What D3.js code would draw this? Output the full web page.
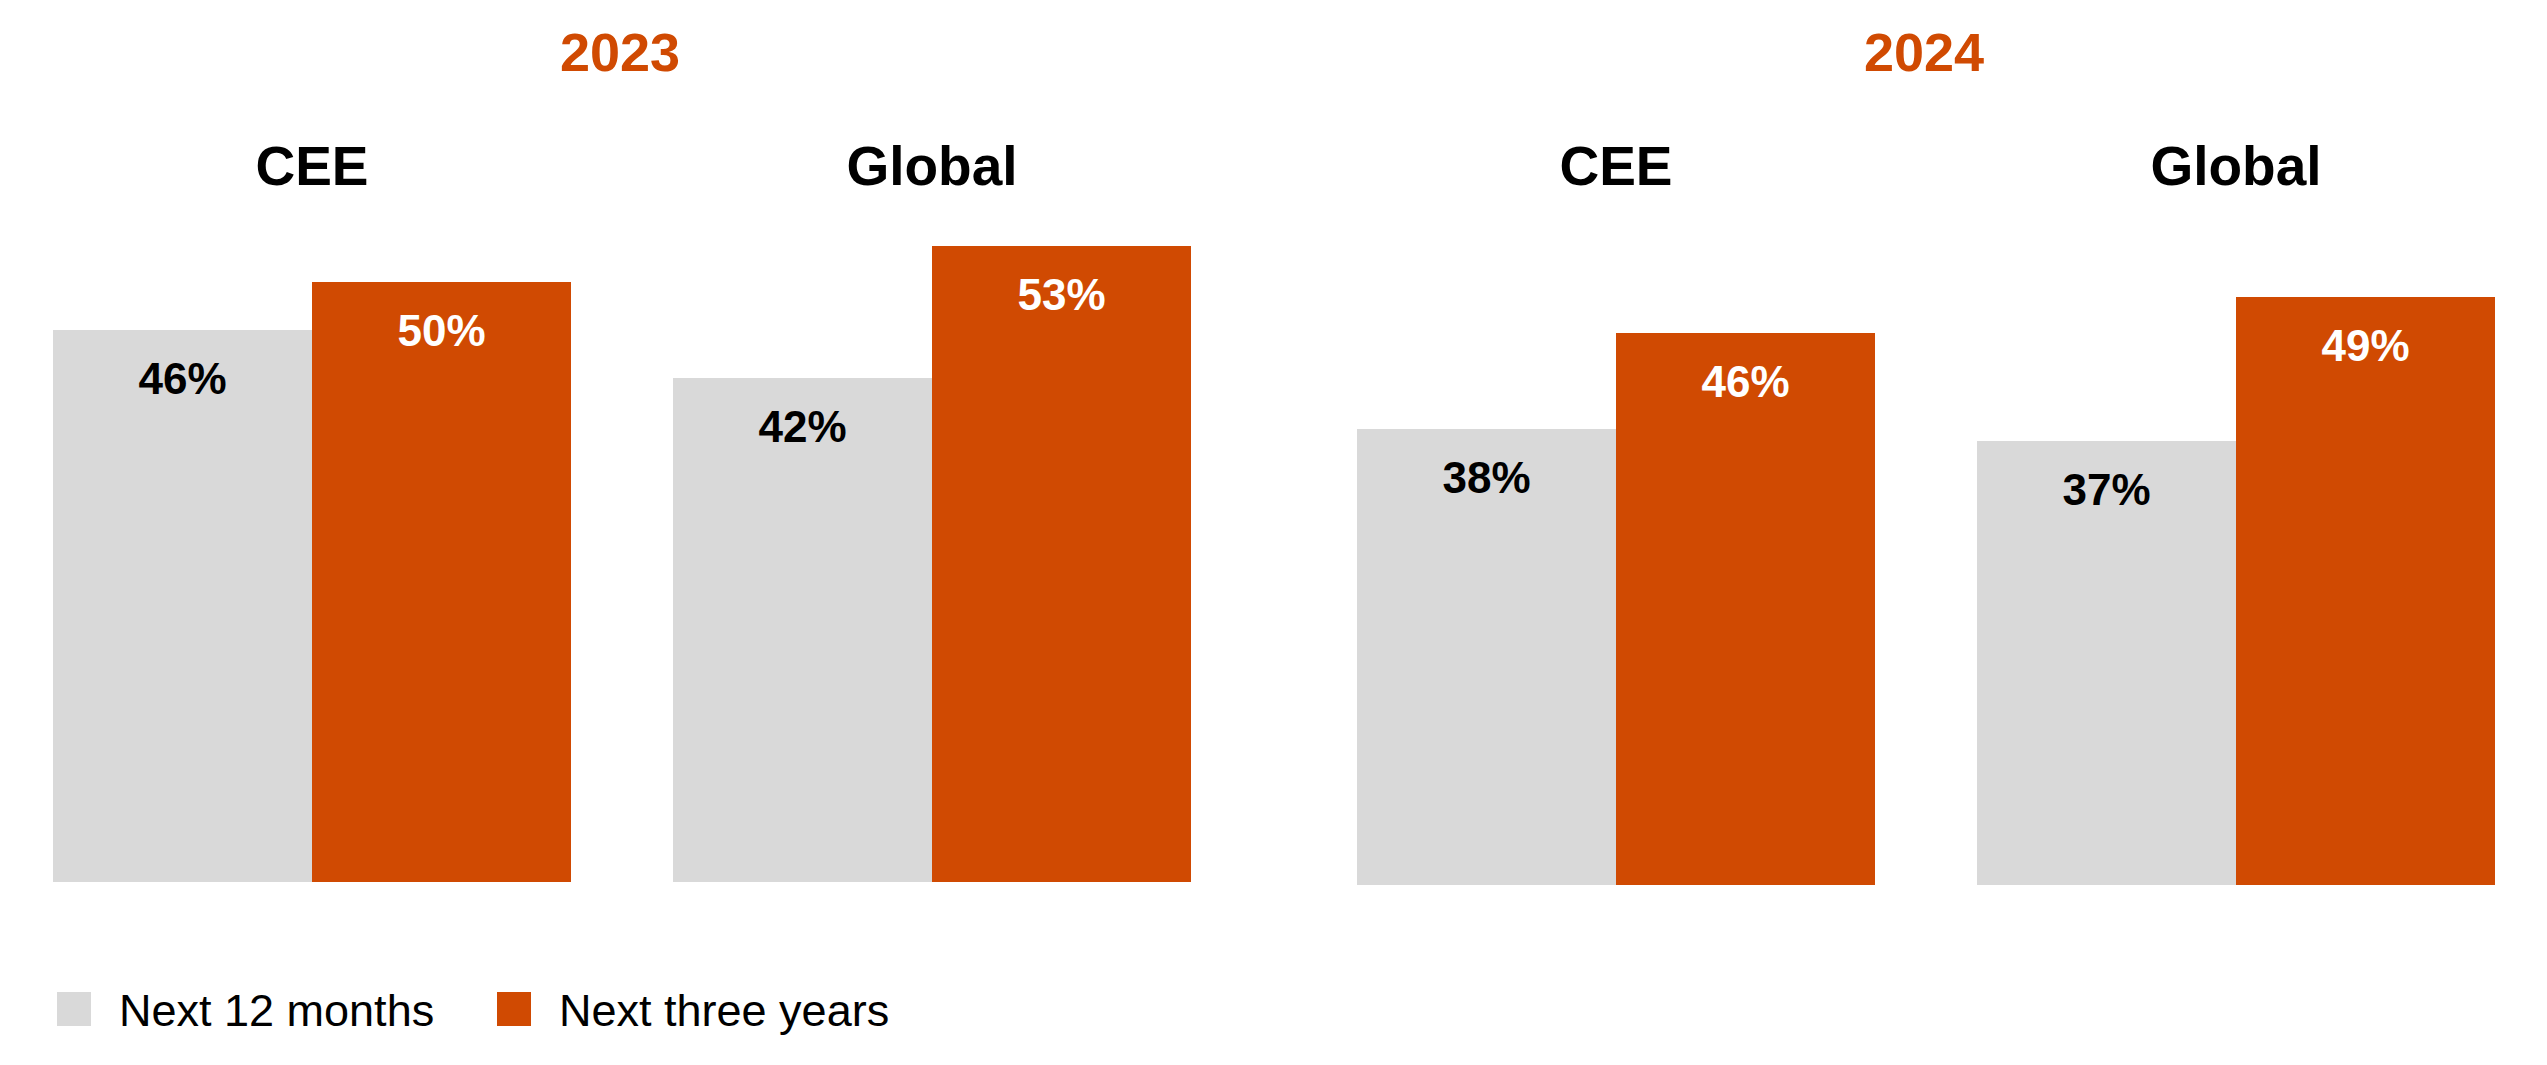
<!DOCTYPE html>
<html>
<head>
<meta charset="utf-8">
<script src="https://cdn.jsdelivr.net/npm/d3@7"></script>
<style>
  body { margin: 0; background: #fff; }
  text { font-family: "Liberation Sans", Arial, sans-serif; }
</style>
</head>
<body>
<svg width="2547" height="1065"></svg>
<script>
// Data
var years = ["2023", "2024"];
var regions = ["CEE", "Global"];
var series = ["Next 12 months", "Next three years"];
var next12 = [[46, 42], [38, 37]];     // [year][region]
var next3 = [[50, 53], [46, 49]];

var colors = ["#D9D9D9", "#D04A02"];
var labelColors = ["#000", "#fff"];

var svg = d3.select("svg");

// Scales
var h = d3.scaleLinear().domain([0, 50]).range([0, 600]);
var baselines = [882, 885];

years.forEach(function (yr, yi) {
  var x0 = 53 + yi * 1304;
  var regionX = d3.scaleBand().domain(regions).range([x0, x0 + 1138]).paddingInner(102 / 620);
  var serX = d3.scaleBand().domain(series).range([0, regionX.bandwidth()]);
  var base = baselines[yi];

  var g = svg.append("g");

  // Year title
  g.append("text")
    .attr("x", x0 + 569 - 2)
    .attr("y", 71)
    .attr("text-anchor", "middle")
    .attr("font-size", 54)
    .attr("font-weight", "bold")
    .attr("fill", "#D04A02")
    .text(yr);

  regions.forEach(function (rg, ri) {
    var gx = regionX(rg);
    var vals = [next12[yi][ri], next3[yi][ri]];

    g.append("text")
      .attr("x", gx + regionX.bandwidth() / 2)
      .attr("y", 185)
      .attr("text-anchor", "middle")
      .attr("font-size", 55)
      .attr("font-weight", "bold")
      .attr("fill", "#000")
      .text(rg);

    var bars = g.selectAll(null)
      .data(vals)
      .enter();

    bars.append("rect")
      .attr("x", function (d, i) { return gx + serX(series[i]); })
      .attr("y", function (d) { return base - h(d); })
      .attr("width", serX.bandwidth())
      .attr("height", function (d) { return h(d); })
      .attr("fill", function (d, i) { return colors[i]; });

    bars.append("text")
      .attr("x", function (d, i) { return gx + serX(series[i]) + serX.bandwidth() / 2; })
      .attr("y", function (d) { return base - h(d) + 64; })
      .attr("text-anchor", "middle")
      .attr("font-size", 44)
      .attr("font-weight", "bold")
      .attr("fill", function (d, i) { return labelColors[i]; })
      .text(function (d) { return d + "%"; });
  });
});

// Legend
var legendX = [57, 497];
var legend = svg.append("g")
  .selectAll("g")
  .data(series)
  .enter().append("g")
  .attr("transform", function (d, i) { return "translate(" + legendX[i] + ",992)"; });

legend.append("rect")
  .attr("width", 34)
  .attr("height", 34)
  .attr("fill", function (d, i) { return colors[i]; });

legend.append("text")
  .attr("x", 62)
  .attr("y", 34)
  .attr("font-size", 45)
  .attr("fill", "#000")
  .text(function (d) { return d; });
</script>
</body>
</html>
